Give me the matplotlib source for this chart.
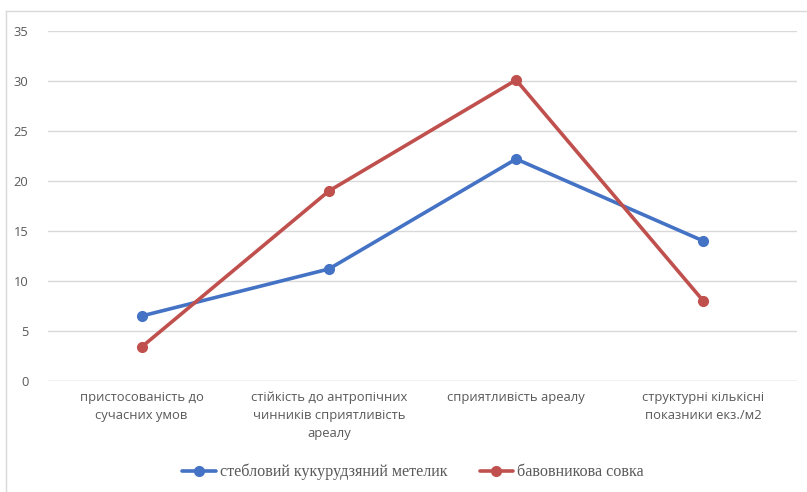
import matplotlib.pyplot as plt
from matplotlib.lines import Line2D
import numpy as np

categories = [
    'пристосованість до\nсучасних умов',
    'стійкість до антропічних\nчинників сприятливість\nареалу',
    'сприятливість ареалу',
    'структурні кількісні\nпоказники екз./м2',
]
series_names = ['стебловий кукурудзяний метелик', 'бавовникова совка']
corn_borer = [6.5, 11.2, 22.2, 14.0]
cotton_bollworm = [3.4, 19.0, 30.1, 8.0]
y_ticks = [0, 5, 10, 15, 20, 25, 30, 35]

colors = ['#4472C4', '#C0504D']
text_color = '#595959'
grid_color = '#D9D9D9'

plt.rcParams['font.family'] = ['Open Sans', 'DejaVu Sans']

fig = plt.figure(figsize=(8.07, 4.92), dpi=100)
ax = fig.add_axes([48 / 807, 1 - 381 / 492, 749 / 807, 350 / 492])

x = np.arange(len(categories))
for vals, col, name in zip([corn_borer, cotton_bollworm], colors, series_names):
    ax.plot(x, vals, color=col, lw=2.6, marker='o', ms=7, label=name,
            solid_capstyle='round', solid_joinstyle='round')

ax.set_xlim(-0.5, len(categories) - 0.5)
ax.set_ylim(0, 35)
ax.set_yticks(y_ticks)
ax.set_xticks(x)
ax.set_xticklabels(categories, fontsize=9.4, color=text_color, linespacing=1.5)
ax.tick_params(axis='y', length=0, pad=14, labelsize=9.3, labelcolor=text_color)
ax.tick_params(axis='x', length=0, pad=7)
ax.grid(axis='y', color=grid_color, lw=1)
ax.set_axisbelow(True)
for s in ax.spines.values():
    s.set_visible(False)
ax.axhline(0, color=grid_color, lw=1, zorder=0.5)

# chart-area border (only left and top visible in the crop)
fig.add_artist(Line2D([6 / 807, 6 / 807], [0, 1 - 11 / 492],
                      transform=fig.transFigure, color=grid_color, lw=1))
fig.add_artist(Line2D([6 / 807, 1], [1 - 11 / 492, 1 - 11 / 492],
                      transform=fig.transFigure, color=grid_color, lw=1))

leg = fig.legend(loc='center', bbox_to_anchor=(413 / 807, 1 - 472 / 492),
                 ncol=2, frameon=False, handlelength=2.1, handletextpad=0.25,
                 columnspacing=2.0,
                 prop={'family': 'Liberation Serif', 'size': 11.6})
for t in leg.get_texts():
    t.set_color(text_color)

fig.savefig('out.png', dpi=100)
